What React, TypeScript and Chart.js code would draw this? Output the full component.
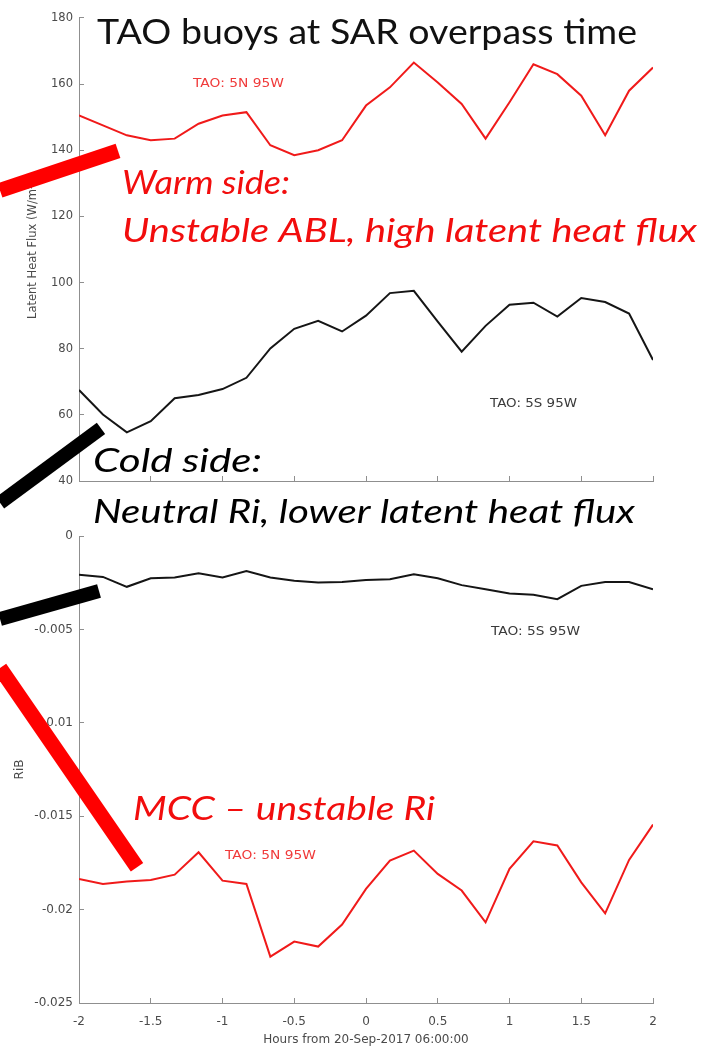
import { useEffect, useRef } from "react";
import { Chart, registerables } from "chart.js";

Chart.register(...registerables);

// ---------- data ----------
const hours = [
  -2, -1.8333, -1.6667, -1.5, -1.3333, -1.1667, -1, -0.8333, -0.6667, -0.5, -0.3333, -0.1667,
  0, 0.1667, 0.3333, 0.5, 0.6667, 0.8333, 1, 1.1667, 1.3333, 1.5, 1.6667, 1.8333, 2,
];

// Latent heat flux (W/m2)
const lhf5N = [
  150.5, 147.5, 144.5, 143, 143.5, 148, 150.5, 151.5, 141.5, 138.5, 140, 143,
  153.5, 159, 166.5, 160.5, 154, 143.5, 154.5, 166, 163, 156.5, 144.5, 158, 165,
];
const lhf5S = [
  67.5, 60.1, 54.7, 58.1, 65, 66, 67.8, 71.2, 80.1, 86, 88.4, 85.2,
  90, 96.8, 97.5, 88.2, 79.1, 86.9, 93.3, 93.9, 89.7, 95.3, 94.1, 90.6, 76.6,
];

// Bulk Richardson number
const rib5S = [
  -0.00208, -0.00219, -0.00272, -0.00226, -0.00222, -0.00199, -0.00222, -0.00187, -0.00222,
  -0.0024, -0.00249, -0.00246, -0.00235, -0.00231, -0.00205, -0.00226, -0.00263, -0.00285,
  -0.00308, -0.00315, -0.00338, -0.00267, -0.00246, -0.00246, -0.00285,
];
const rib5N = [
  -0.01836, -0.01863, -0.0185, -0.01841, -0.01813, -0.01693, -0.01845, -0.01863, -0.02252,
  -0.02171, -0.02198, -0.0208, -0.01889, -0.01738, -0.01684, -0.01809, -0.01898, -0.02068,
  -0.01782, -0.01634, -0.01657, -0.01854, -0.0202, -0.01734, -0.01545,
];

const xTicks = [-2, -1.5, -1, -0.5, 0, 0.5, 1, 1.5, 2];
const lhfTicks = [40, 60, 80, 100, 120, 140, 160, 180];
const ribTicks = [-0.025, -0.02, -0.015, -0.01, -0.005, 0];

const seriesNames = ["TAO: 5N 95W", "TAO: 5S 95W"];
const titleText = "TAO buoys at SAR overpass time";
const xTitle = "Hours from 20-Sep-2017 06:00:00";
const lhfTitle = "Latent Heat Flux (W/m²)";
const ribTitle = "RiB";
const warmText = ["Warm side:", "Unstable ABL, high latent heat flux"];
const coldText = ["Cold side:", "Neutral Ri, lower latent heat flux"];
const mccText = "MCC – unstable Ri";

// ---------- styling ----------
const W = 702;
const H = 1051;
const AXIS = "#8f8f8f";
const TICKTXT = "#4a4a4a";
const RED = "#f01a1a";
const BLACK = "#151515";
const ANN_RED = "#f20d0d";
const TICKFONT = "DejaVu Sans";

type Bar = { x1: number; y1: number; x2: number; y2: number; color: string; width: number };
type Label = {
  x: number;
  y: number;
  text: string;
  font: string;
  color: string;
  fitWidth?: number;
  baseline: CanvasTextBaseline;
};

function annotationPlugin(bars: Bar[], labels: Label[]) {
  return {
    id: "annot",
    afterDraw(chart: any) {
      const ctx: CanvasRenderingContext2D = chart.ctx;
      const xs = chart.scales.x;
      const ys = chart.scales.y;
      ctx.save();
      ctx.lineCap = "butt";
      for (const b of bars) {
        ctx.beginPath();
        ctx.strokeStyle = b.color;
        ctx.lineWidth = b.width;
        ctx.moveTo(xs.getPixelForValue(b.x1), ys.getPixelForValue(b.y1));
        ctx.lineTo(xs.getPixelForValue(b.x2), ys.getPixelForValue(b.y2));
        ctx.stroke();
      }
      for (const l of labels) {
        ctx.font = l.font;
        ctx.fillStyle = l.color;
        ctx.textBaseline = l.baseline;
        ctx.textAlign = "left";
        const px = xs.getPixelForValue(l.x);
        const py = ys.getPixelForValue(l.y);
        const m = ctx.measureText(l.text).width;
        const sx = l.fitWidth ? l.fitWidth / m : 1;
        ctx.save();
        ctx.translate(px, py);
        ctx.scale(sx, 1);
        ctx.fillText(l.text, 0, 0);
        ctx.restore();
      }
      ctx.restore();
    },
  };
}

const fmt = (v: number) => String(+Number(v).toFixed(4));

function xScale(showLabels: boolean, height: number) {
  return {
    type: "linear" as const,
    min: -2,
    max: 2,
    afterBuildTicks: (s: any) => {
      s.ticks = xTicks.map((v) => ({ value: v }));
    },
    afterFit: (s: any) => {
      s.height = height;
    },
    grid: { display: true, drawOnChartArea: false, drawTicks: true, tickLength: -5, color: AXIS, lineWidth: 1 },
    border: { display: true, color: AXIS, width: 1 },
    ticks: {
      display: showLabels,
      padding: 17,
      color: TICKTXT,
      font: { family: TICKFONT, size: 12 },
      callback: (v: any) => fmt(v),
      maxRotation: 0,
      autoSkip: false,
    },
    title: {
      display: showLabels,
      text: xTitle,
      color: TICKTXT,
      font: { family: TICKFONT, size: 12 },
      padding: { top: 0, bottom: 4 },
    },
  };
}

function yScale(min: number, max: number, ticks: number[], title: string, titlePad: number, size: number) {
  return {
    type: "linear" as const,
    min,
    max,
    afterBuildTicks: (s: any) => {
      s.ticks = ticks.map((v) => ({ value: v }));
    },
    afterFit: (s: any) => {
      s.width = 79;
    },
    grid: { display: true, drawOnChartArea: false, drawTicks: true, tickLength: -5, color: AXIS, lineWidth: 1 },
    border: { display: true, color: AXIS, width: 1 },
    ticks: {
      padding: 11,
      color: TICKTXT,
      font: { family: TICKFONT, size },
      callback: (v: any) => fmt(v),
      autoSkip: false,
    },
    title: {
      display: true,
      text: title,
      color: TICKTXT,
      font: { family: TICKFONT, size },
      padding: { top: titlePad, bottom: 0 },
    },
  };
}

const ITALIC = "italic 33px Lato";

function topConfig(): any {
  const bars: Bar[] = [
    { x1: -2.5505, y1: 127.84, x2: -1.7282, y2: 139.83, color: "#ff0000", width: 15 },
    { x1: -2.5505, y1: 33.4, x2: -1.8467, y2: 55.89, color: "#000000", width: 14 },
  ];
  const labels: Label[] = [
    { x: -1.8746, y: 172.21, text: titleText, font: "35px Lato", color: "#111111", fitWidth: 540, baseline: "alphabetic" },
    { x: -1.7003, y: 126.64, text: warmText[0], font: ITALIC, color: ANN_RED, fitWidth: 168, baseline: "alphabetic" },
    { x: -1.7003, y: 112.25, text: warmText[1], font: ITALIC, color: ANN_RED, fitWidth: 575, baseline: "alphabetic" },
    { x: -1.9024, y: 42.7, text: coldText[0], font: ITALIC, color: "#000000", fitWidth: 169, baseline: "alphabetic" },
    { x: -1.9024, y: 27.41, text: coldText[1], font: ITALIC, color: "#000000", fitWidth: 542, baseline: "alphabetic" },
    { x: -1.2056, y: 159.91, text: seriesNames[0], font: `12px ${TICKFONT}`, color: "#f03a3a", fitWidth: 91, baseline: "middle" },
    { x: 0.8641, y: 63.38, text: seriesNames[1], font: `12px ${TICKFONT}`, color: "#3a3a3a", fitWidth: 87, baseline: "middle" },
  ];
  return {
    type: "line",
    data: {
      datasets: [
        {
          label: seriesNames[0],
          data: hours.map((h, i) => ({ x: h, y: lhf5N[i] })),
          borderColor: RED,
          borderWidth: 2,
          pointRadius: 0,
          tension: 0,
          fill: false,
        },
        {
          label: seriesNames[1],
          data: hours.map((h, i) => ({ x: h, y: lhf5S[i] })),
          borderColor: BLACK,
          borderWidth: 2,
          pointRadius: 0,
          tension: 0,
          fill: false,
        },
      ],
    },
    options: {
      animation: false,
      responsive: false,
      maintainAspectRatio: false,
      layout: { padding: { left: 0, top: 14, right: W - 653, bottom: H - 481 } },
      plugins: { legend: { display: false }, tooltip: { enabled: false }, title: { display: false } },
      scales: {
        x: xScale(false, 0),
        y: yScale(40, 180, lhfTicks, lhfTitle, 26, 11.5),
      },
    },
    plugins: [annotationPlugin(bars, labels)],
  };
}

function botConfig(): any {
  const bars: Bar[] = [
    { x1: -2.5505, y1: -0.004446, x2: -1.8606, y2: -0.002946, color: "#000000", width: 14 },
    { x1: -2.5505, y1: -0.007071, x2: -1.5958, y2: -0.017732, color: "#ff0000", width: 15 },
  ];
  const labels: Label[] = [
    { x: -1.6237, y: -0.015214, text: mccText, font: ITALIC, color: ANN_RED, fitWidth: 302, baseline: "alphabetic" },
    { x: 0.8711, y: -0.005143, text: seriesNames[1], font: `12px ${TICKFONT}`, color: "#3a3a3a", fitWidth: 89, baseline: "middle" },
    { x: -0.9826, y: -0.017143, text: seriesNames[0], font: `12px ${TICKFONT}`, color: "#f03a3a", fitWidth: 91, baseline: "middle" },
  ];
  return {
    type: "line",
    data: {
      datasets: [
        {
          label: seriesNames[1],
          data: hours.map((h, i) => ({ x: h, y: rib5S[i] })),
          borderColor: BLACK,
          borderWidth: 2,
          pointRadius: 0,
          tension: 0,
          fill: false,
        },
        {
          label: seriesNames[0],
          data: hours.map((h, i) => ({ x: h, y: rib5N[i] })),
          borderColor: RED,
          borderWidth: 2,
          pointRadius: 0,
          tension: 0,
          fill: false,
        },
      ],
    },
    options: {
      animation: false,
      responsive: false,
      maintainAspectRatio: false,
      layout: { padding: { left: 0, top: 536, right: W - 653, bottom: 0 } },
      plugins: { legend: { display: false }, tooltip: { enabled: false }, title: { display: false } },
      scales: {
        x: xScale(true, H - 1003),
        y: yScale(-0.025, 0, ribTicks, ribTitle, 13, 12),
      },
    },
    plugins: [annotationPlugin(bars, labels)],
  };
}

export default function App() {
  const topRef = useRef<HTMLCanvasElement>(null);
  const botRef = useRef<HTMLCanvasElement>(null);

  useEffect(() => {
    const c2 = new Chart(botRef.current as HTMLCanvasElement, botConfig());
    const c1 = new Chart(topRef.current as HTMLCanvasElement, topConfig());
    return () => {
      c1.destroy();
      c2.destroy();
    };
  }, []);

  const cs: React.CSSProperties = { position: "absolute", left: 0, top: 0, width: W, height: H };
  return (
    <div style={{ position: "fixed", left: 0, top: 0, width: W, height: H, background: "#ffffff" }}>
      <canvas ref={botRef} width={W} height={H} style={cs} />
      <canvas ref={topRef} width={W} height={H} style={cs} />
    </div>
  );
}
